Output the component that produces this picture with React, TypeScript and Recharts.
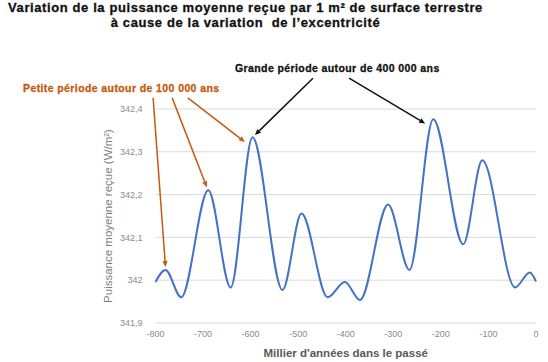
import { LineChart, Line, XAxis, YAxis, CartesianGrid, ReferenceLine } from 'recharts';

// thousands of years before present
const YEARS = [-800, -779, -746, -689, -642, -596, -533, -493, -438, -402, -370, -311, -266, -216, -153, -113, -44, -13, 0];
// mean received power (W/m²)
const POWER = [341.996, 342.024, 341.96, 342.21, 341.983, 342.334, 341.977, 342.156, 341.96, 341.996, 341.954, 342.177, 342.024, 342.376, 342.084, 342.28, 341.983, 342.018, 341.997];

const X_TICKS = [-800, -700, -600, -500, -400, -300, -200, -100, 0];
const Y_TICKS = [341.9, 342, 342.1, 342.2, 342.3, 342.4];

// annotation arrows: [fromYear, fromPower, toYear, toPower]
const SHORT_ARROWS = [
  [-805, 342.426, -779, 342.031],
  [-765, 342.426, -692, 342.217],
  [-732, 342.426, -612, 342.323],
];
const LONG_ARROWS = [
  [-469, 342.472, -591, 342.339],
  [-393, 342.472, -233, 342.366],
];

const data = YEARS.map((y, i) => ({ year: y, power: POWER[i] }));

const ORANGE = '#C55A11';
const BLUE = '#4472C4';

const fmt = (v: number) => String(Math.round(v * 10) / 10).replace('.', ',');

function Arrow(props: any) {
  const { x1, y1, x2, y2, stroke } = props;
  const a = Math.atan2(y2 - y1, x2 - x1);
  const len = 6;
  const w = 2.6;
  const bx = x2 - len * Math.cos(a);
  const by = y2 - len * Math.sin(a);
  const px = -Math.sin(a) * w;
  const py = Math.cos(a) * w;
  return (
    <g>
      <line x1={x1} y1={y1} x2={bx} y2={by} stroke={stroke} strokeWidth={1.5} />
      <polygon points={`${x2},${y2} ${bx + px},${by + py} ${bx - px},${by - py}`} fill={stroke} />
    </g>
  );
}

export default function App() {
  const font = '"Liberation Sans", Arial, sans-serif';
  const heavy = { fontWeight: 'bold' as const, WebkitTextStroke: '0.3px currentColor' };
  return (
    <div style={{ position: 'absolute', left: 0, top: 0, width: 548, height: 362, background: '#fff', fontFamily: font }}>
      <div style={{ position: 'absolute', left: 0, width: 491, top: 1, textAlign: 'center', fontSize: 13, lineHeight: '14.5px', letterSpacing: 0.6, color: '#111', ...heavy }}>
        Variation de la puissance moyenne reçue par 1 m² de surface terrestre
        <br />
        à cause de la variation&nbsp; de l’excentricité
      </div>
      <div style={{ position: 'absolute', left: 235, top: 62, fontSize: 10.5, lineHeight: '12px', letterSpacing: 0.4, color: '#111', whiteSpace: 'nowrap', ...heavy }}>
        Grande période autour de 400 000 ans
      </div>
      <div style={{ position: 'absolute', left: 23, top: 82, fontSize: 10.5, lineHeight: '12px', letterSpacing: 0.4, color: ORANGE, whiteSpace: 'nowrap', ...heavy }}>
        Petite période autour de 100 000 ans
      </div>
      <LineChart width={548} height={362} data={data} margin={{ top: 109, right: 12, bottom: 0, left: 0 }} style={{ position: 'absolute', left: 0, top: 0 }}>
        <CartesianGrid vertical={false} stroke="#d9d9d9" />
        <XAxis
          dataKey="year"
          type="number"
          domain={[-800, 0]}
          ticks={X_TICKS}
          axisLine={false}
          tickLine={false}
          height={39}
          tick={{ fontSize: 9, fill: '#8c8c8c', fontFamily: font }}
          label={{ value: "Millier d'années dans le passé", position: 'insideBottom', offset: 5, style: { fontSize: 11.5, fontWeight: 'bold', fill: '#595959', fontFamily: font } }}
        />
        <YAxis
          type="number"
          domain={[341.9, 342.4]}
          ticks={Y_TICKS}
          axisLine={false}
          tickLine={false}
          width={155.5}
          tickMargin={7}
          tickFormatter={fmt}
          tick={{ fontSize: 9, fill: '#8c8c8c', fontFamily: font }}
          label={{ value: 'Puissance moyenne reçue (W/m²)', angle: -90, position: 'insideLeft', offset: 108, style: { textAnchor: 'middle', fontSize: 11.5, fill: '#7f7f7f', fontFamily: font } }}
        />
        <Line type="monotone" dataKey="power" stroke={BLUE} strokeWidth={2} dot={false} isAnimationActive={false} />
        {SHORT_ARROWS.map((s, i) => (
          <ReferenceLine key={'s' + i} segment={[{ x: s[0], y: s[1] }, { x: s[2], y: s[3] }]} ifOverflow="visible" stroke={ORANGE} shape={(p: any) => <Arrow {...p} />} />
        ))}
        {LONG_ARROWS.map((s, i) => (
          <ReferenceLine key={'l' + i} segment={[{ x: s[0], y: s[1] }, { x: s[2], y: s[3] }]} ifOverflow="visible" stroke="#111" shape={(p: any) => <Arrow {...p} />} />
        ))}
      </LineChart>
    </div>
  );
}
